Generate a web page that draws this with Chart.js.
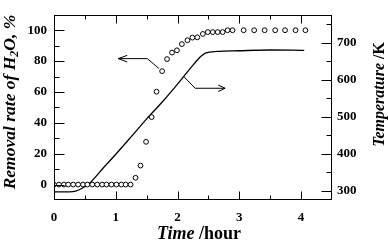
<!DOCTYPE html>
<html>
<head>
<meta charset="utf-8">
<script src="https://cdn.jsdelivr.net/npm/chart.js@4.4.1/dist/chart.umd.min.js"></script>
<style>
  html, body { margin: 0; padding: 0; background: #fff; }
  #wrap { width: 388px; height: 244px; position: relative; }
</style>
</head>
<body>
<div id="wrap"><canvas id="chart"></canvas></div>
<script>
// --- Data ---
const timeTicks = [0, 1, 2, 3, 4];
const timeMinor = [0.5, 1.5, 2.5, 3.5];
const rateTicks = [0, 20, 40, 60, 80, 100];
const rateMinor = [10, 30, 50, 70, 90];
const tempTicks = [300, 400, 500, 600, 700];
const tempMinor = [350, 450, 550, 650, 750];

// removal rate of H2O (circles, left axis)
const rateTime = [0, 0.08, 0.16, 0.23, 0.31, 0.39, 0.47, 0.54, 0.62, 0.70, 0.78, 0.85, 0.93, 1.01, 1.09, 1.16, 1.24,
                  1.32, 1.40, 1.49, 1.58, 1.66, 1.75, 1.83, 1.91, 1.99, 2.07, 2.16, 2.24, 2.32, 2.41, 2.49, 2.57,
                  2.65, 2.73, 2.81, 2.89, 3.07, 3.24, 3.41, 3.58, 3.74, 3.91, 4.07];
const rateValue = [0, 0, 0, 0, 0, 0, 0, 0, 0, 0, 0, 0, 0, 0, 0, 0, 0,
                   4.4, 12.3, 27.7, 43.7, 60.2, 73.5, 81.3, 85.5, 87, 91, 93.5, 95.2, 95.4, 97.6, 98.8, 98.8,
                   98.8, 98.8, 100, 100, 100, 100, 100, 100, 100, 100, 100];

// temperature (solid line, right axis)
const tempTime = [0, 0.25, 0.35, 0.45, 0.58, 0.80, 0.96, 1.23, 1.50, 1.77, 2.04, 2.26, 2.38, 2.46, 2.64, 3.0, 3.5, 4.05];
const tempValue = [297, 297, 299, 306, 321, 362, 391, 442, 494, 543, 596, 641, 663, 672, 676, 678, 680, 679];

// annotation arrows, in (time, removal-rate) units
const arrowToRate = [[1.70, 75.2], [1.51, 81.6], [1.04, 81.6]];
const arrowToTemp = [[2.10, 70.0], [2.285, 62.4], [2.77, 62.4]];

const tickFont = { family: 'Liberation Serif', size: 13, weight: 'bold' };
const F_BI = 'italic bold 16px "Liberation Serif"';
const F_B = 'bold 16px "Liberation Serif"';

function drawParts(ctx, parts, x, y) {
  let total = 0;
  parts.forEach(p => { ctx.font = p.font; p.w = ctx.measureText(p.text).width; total += p.w; });
  let cx = x - total / 2;
  parts.forEach(p => {
    ctx.font = p.font;
    ctx.fillText(p.text, cx, y + (p.dy || 0));
    cx += p.w;
  });
}

const framePlugin = {
  id: 'frame',
  afterDatasetsDraw(chart) {
    const { ctx, chartArea: a, scales } = chart;
    const L = Math.round(a.left) + 0.5, R = Math.round(a.right) - 0.5;
    const T = Math.round(a.top) + 0.5, B = Math.round(a.bottom) - 0.5;
    ctx.save();
    ctx.strokeStyle = '#000';
    ctx.lineWidth = 1;
    ctx.strokeRect(L, T, R - L, B - T);
    ctx.beginPath();
    const xt = (v, len) => {
      const px = Math.round(scales.x.getPixelForValue(v)) + 0.5;
      ctx.moveTo(px, B); ctx.lineTo(px, B - len);
      ctx.moveTo(px, T); ctx.lineTo(px, T + len);
    };
    timeTicks.forEach(v => xt(v, 8));
    timeMinor.forEach(v => xt(v, 4));
    const yl = (v, len) => {
      const py = Math.round(scales.y.getPixelForValue(v)) + 0.5;
      ctx.moveTo(L, py); ctx.lineTo(L + len, py);
    };
    rateTicks.forEach(v => yl(v, 10));
    rateMinor.forEach(v => yl(v, 5));
    const yr = (v, len) => {
      const py = Math.round(scales.y1.getPixelForValue(v)) + 0.5;
      ctx.moveTo(R, py); ctx.lineTo(R - len, py);
    };
    tempTicks.forEach(v => yr(v, 10));
    tempMinor.forEach(v => yr(v, 5));
    ctx.stroke();

    // arrows
    const arrow = (pts, head) => {
      const p = pts.map(([tx, ty]) => [scales.x.getPixelForValue(tx), scales.y.getPixelForValue(ty)]);
      ctx.beginPath();
      ctx.moveTo(p[0][0], p[0][1]);
      for (let i = 1; i < p.length; i++) ctx.lineTo(p[i][0], p[i][1]);
      const [ex, ey] = p[p.length - 1];
      const dir = Math.sign(ex - p[p.length - 2][0]);
      ctx.moveTo(ex - dir * head, ey - 3.3);
      ctx.lineTo(ex, ey);
      ctx.lineTo(ex - dir * head, ey + 3.3);
      ctx.stroke();
    };
    arrow(arrowToRate, 9);
    arrow(arrowToTemp, 7);

    // axis titles with mixed styles
    ctx.fillStyle = '#000';
    ctx.textBaseline = 'alphabetic';
    ctx.textAlign = 'left';
    drawParts(ctx, [{ text: 'Time', font: 'italic bold 18px "Liberation Serif"' },
                    { text: ' /hour', font: 'bold 18px "Liberation Serif"' }], 199, 238.5);

    ctx.save();
    ctx.translate(15, 102);
    ctx.rotate(-Math.PI / 2);
    drawParts(ctx, [{ text: 'Removal rate of H', font: 'italic bold 17.5px "Liberation Serif"' },
                    { text: '2', font: 'italic bold 12px "Liberation Serif"', dy: 3 },
                    { text: 'O, %', font: 'italic bold 17.5px "Liberation Serif"' }], 0, 0);
    ctx.restore();

    ctx.save();
    ctx.translate(384, 94.5);
    ctx.rotate(-Math.PI / 2);
    drawParts(ctx, [{ text: 'Temperature', font: F_BI }, { text: ' /K', font: F_B }], 0, 0);
    ctx.restore();
    ctx.restore();
  }
};

const setTicks = arr => scale => { scale.ticks = arr.map(v => ({ value: v })); };

new Chart(document.getElementById('chart'), {
  type: 'scatter',
  data: {
    datasets: [
      {
        label: 'Removal rate',
        data: rateTime.map((t, i) => ({ x: t, y: rateValue[i] })),
        yAxisID: 'y',
        pointRadius: 2.4,
        pointBackgroundColor: '#fff',
        pointBorderColor: '#000',
        pointBorderWidth: 1
      },
      {
        label: 'Temperature',
        data: tempTime.map((t, i) => ({ x: t, y: tempValue[i] })),
        yAxisID: 'y1',
        showLine: true,
        pointRadius: 0,
        borderColor: '#000',
        borderWidth: 1.3,
        cubicInterpolationMode: 'monotone'
      }
    ]
  },
  options: {
    responsive: true,
    maintainAspectRatio: false,
    animation: false,
    layout: { padding: { top: 2 } },
    plugins: { legend: { display: false }, tooltip: { enabled: false } },
    scales: {
      x: {
        type: 'linear', min: 0, max: 4.5,
        afterBuildTicks: setTicks(timeTicks),
        afterFit: s => { s.height = 44; },
        ticks: { font: tickFont, color: '#000', padding: 10, maxRotation: 0 },
        grid: { display: false, drawTicks: false },
        border: { display: false }
      },
      y: {
        position: 'left', min: -10, max: 110,
        afterBuildTicks: setTicks(rateTicks),
        afterFit: s => { s.width = 54; },
        ticks: { font: tickFont, color: '#000', padding: 7 },
        grid: { display: false, drawTicks: false },
        border: { display: false }
      },
      y1: {
        position: 'right', min: 275, max: 775,
        afterBuildTicks: setTicks(tempTicks),
        afterFit: s => { s.width = 56; },
        ticks: { font: tickFont, color: '#000', padding: 5 },
        grid: { display: false, drawTicks: false },
        border: { display: false }
      }
    }
  },
  plugins: [framePlugin]
});
</script>
</body>
</html>
